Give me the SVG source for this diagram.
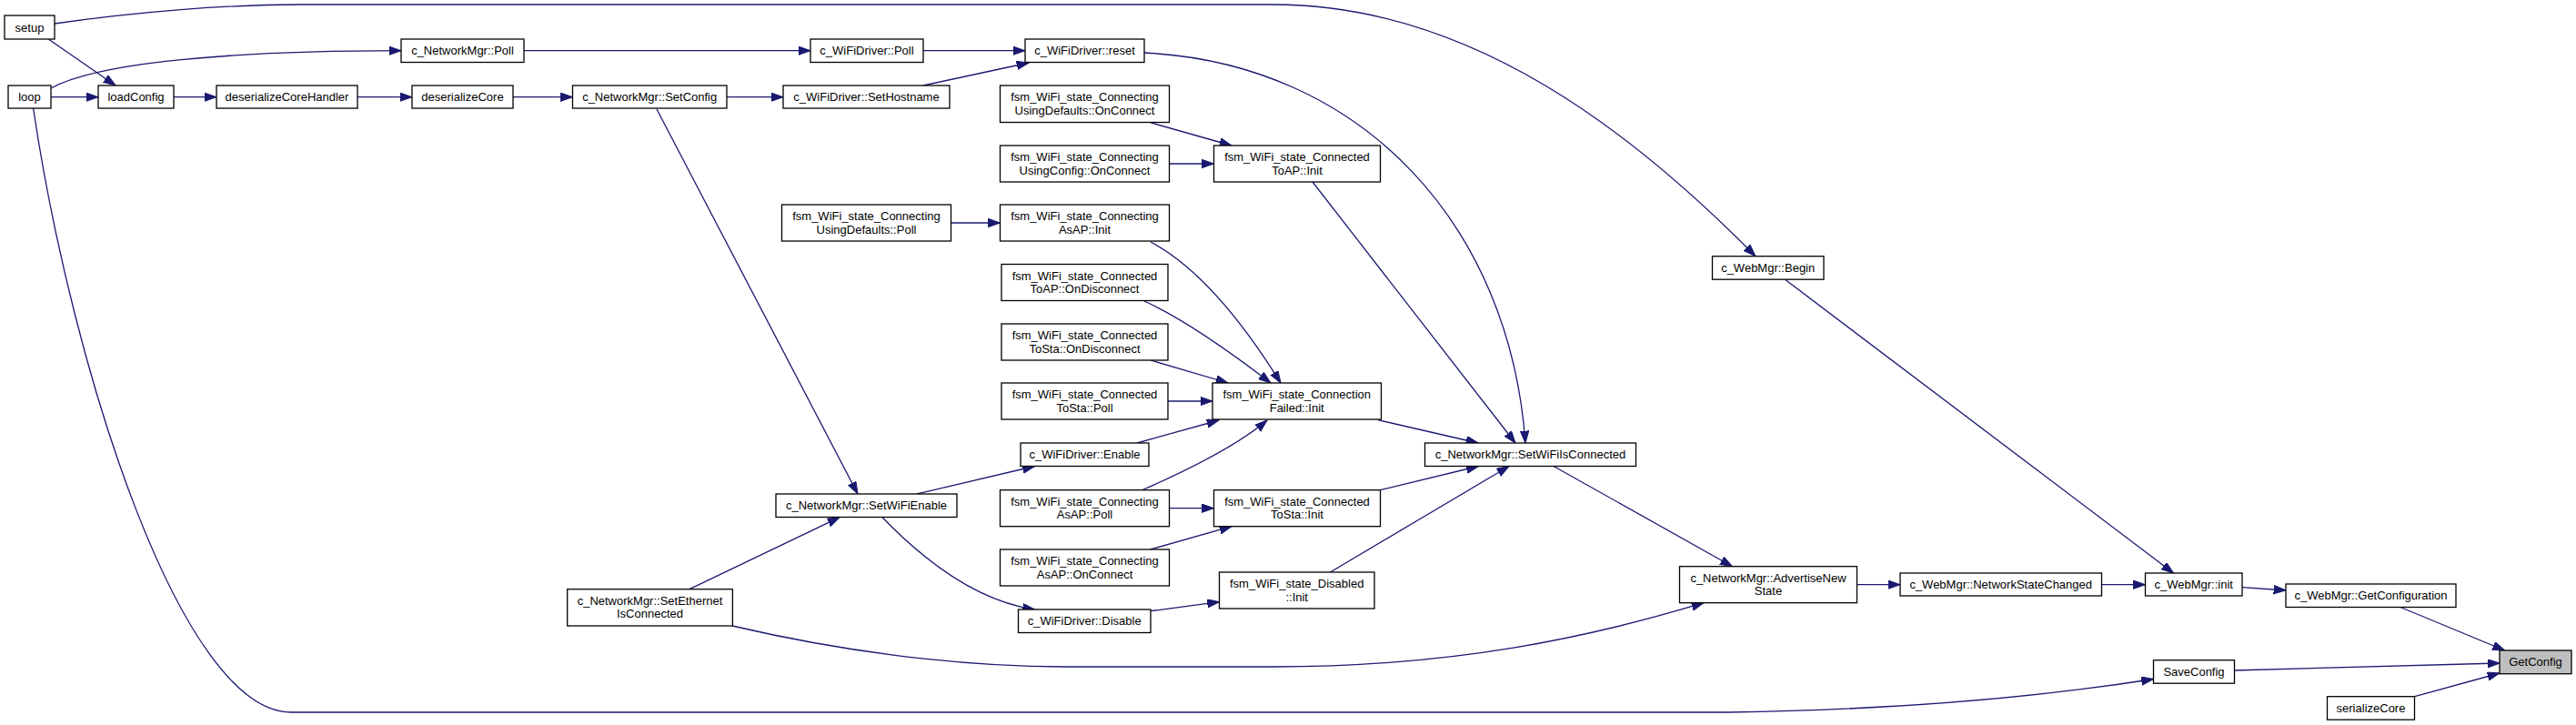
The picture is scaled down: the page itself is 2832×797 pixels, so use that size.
<svg xmlns="http://www.w3.org/2000/svg" width="2832" height="797" viewBox="0 0 2832 797">
<defs>
<style>
.n rect{fill:#fff;stroke:#000;stroke-width:1.3}
.n.g rect{fill:#bfbfbf}
.n text{font-family:"Liberation Sans",Arial,Helvetica,sans-serif;font-size:13px;fill:#000;text-anchor:middle}
.e path{fill:none;stroke:#191970;stroke-width:1.3;marker-end:url(#ah)}
</style>
<marker id="ah" markerWidth="15" markerHeight="11" refX="13.3" refY="4.7" orient="auto" markerUnits="userSpaceOnUse">
<path d="M0,0 L13.3,4.7 L0,9.4 z" fill="#191970" stroke="#191970" stroke-width="1"/>
</marker>
</defs>
<rect x="0" y="0" width="2832" height="797" fill="#fff"/>
<g id="edges" class="e">
<path d="M53.6,43.3 L127,94"/>
<path d="M60,26 C150,13 250,5 330,5 L1400,5 C1620,5 1800,150 1930,281.7"/>
<path d="M56,106.7 L108,106.7"/>
<path d="M56,97 C100,73 220,56 441,55.7"/>
<path d="M36.6,119 C80,410 200,783 320,783 L1900,783 C2100,780 2250,765 2367.5,746.5"/>
<path d="M191,106.7 L238,106.7"/>
<path d="M393,106.7 L453,106.7"/>
<path d="M564,106.7 L629.5,106.7"/>
<path d="M576,55.7 L891,55.7"/>
<path d="M1015,55.7 L1127,55.7"/>
<path d="M799,106.7 L861,106.7"/>
<path d="M1014.7,94 L1131,69"/>
<path d="M722,120 L943,543"/>
<path d="M1258,58 C1500,70 1660,250 1677,487"/>
<path d="M1264.7,134.7 L1354,160"/>
<path d="M1285.3,180 L1334.5,180"/>
<path d="M1443,200 L1666,487"/>
<path d="M1045.5,245 L1099.5,245"/>
<path d="M1265,266 C1320,295 1370,360 1408,421"/>
<path d="M1258,331 C1300,350 1350,385 1397,421"/>
<path d="M1265,396 L1350,421"/>
<path d="M1284,441 L1333,441"/>
<path d="M1250,487 L1340,462"/>
<path d="M1255,539 C1310,515 1360,490 1393,462"/>
<path d="M1515,461.7 L1625,487"/>
<path d="M1008,543 L1137.5,512.5"/>
<path d="M970,568.7 C1010,610 1070,660 1137.5,670"/>
<path d="M758,647.7 L923,568.7"/>
<path d="M805,688 C920,715 1050,733 1170,733 L1400,733 C1600,733 1750,700 1873,662.7"/>
<path d="M1285.3,558.7 L1334.5,558.7"/>
<path d="M1264.7,604 L1354,578.7"/>
<path d="M1517.4,538.7 L1625.4,512.5"/>
<path d="M1265,671.7 L1340.5,661.7"/>
<path d="M1462.5,629 L1659,512.5"/>
<path d="M1708,512.5 L1904.5,622.7"/>
<path d="M2041.5,642.7 L2089,642.7"/>
<path d="M2310.5,642.7 L2358.5,642.7"/>
<path d="M1962.5,307.3 L2389.5,630"/>
<path d="M2465,645.7 L2513,649"/>
<path d="M2639,667.5 L2753.6,715"/>
<path d="M2456.2,737 L2748,729"/>
<path d="M2654.6,765.7 L2748,740"/>
</g>
<g id="n_setup" class="n"><rect x="5" y="17" width="55" height="26"/><text x="32.5" y="34.5">setup</text></g>
<g id="n_loop" class="n"><rect x="9" y="94" width="47" height="25"/><text x="32.5" y="111">loop</text></g>
<g id="n_loadConfig" class="n"><rect x="108" y="94" width="83" height="25"/><text x="149.5" y="111">loadConfig</text></g>
<g id="n_deserializeCoreHandler" class="n"><rect x="238" y="94" width="155" height="25"/><text x="315.5" y="111">deserializeCoreHandler</text></g>
<g id="n_deserializeCore" class="n"><rect x="453" y="94" width="111" height="25"/><text x="508.5" y="111">deserializeCore</text></g>
<g id="n_NM_Poll" class="n"><rect x="441" y="43" width="135" height="25.5"/><text x="508.5" y="60.2">c_NetworkMgr::Poll</text></g>
<g id="n_NM_SetConfig" class="n"><rect x="629.5" y="94" width="169.5" height="25"/><text x="714.2" y="111">c_NetworkMgr::SetConfig</text></g>
<g id="n_WD_SetHostname" class="n"><rect x="861" y="94" width="183" height="25"/><text x="952.5" y="111">c_WiFiDriver::SetHostname</text></g>
<g id="n_WD_Poll" class="n"><rect x="891" y="43" width="124" height="25.5"/><text x="953" y="60.2">c_WiFiDriver::Poll</text></g>
<g id="n_WD_reset" class="n"><rect x="1127" y="43" width="131" height="25.5"/><text x="1192.5" y="60.2">c_WiFiDriver::reset</text></g>
<g id="n_UD_OnConnect" class="n"><rect x="1099.5" y="94" width="186" height="40.5"/><text x="1192.5" y="111.3">fsm_WiFi_state_Connecting</text><text x="1192.5" y="125.7">UsingDefaults::OnConnect</text></g>
<g id="n_UC_OnConnect" class="n"><rect x="1099.5" y="160" width="186" height="40"/><text x="1192.5" y="177.3">fsm_WiFi_state_Connecting</text><text x="1192.5" y="191.7">UsingConfig::OnConnect</text></g>
<g id="n_ToAP_Init" class="n"><rect x="1334.5" y="160" width="183" height="40"/><text x="1426" y="177.3">fsm_WiFi_state_Connected</text><text x="1426" y="191.7">ToAP::Init</text></g>
<g id="n_UD_Poll" class="n"><rect x="859.5" y="225" width="186" height="40"/><text x="952.5" y="242.3">fsm_WiFi_state_Connecting</text><text x="952.5" y="256.7">UsingDefaults::Poll</text></g>
<g id="n_AsAP_Init" class="n"><rect x="1099.5" y="225" width="186" height="40"/><text x="1192.5" y="242.3">fsm_WiFi_state_Connecting</text><text x="1192.5" y="256.7">AsAP::Init</text></g>
<g id="n_ToAP_OnDisconnect" class="n"><rect x="1101" y="290.5" width="183" height="40"/><text x="1192.5" y="307.8">fsm_WiFi_state_Connected</text><text x="1192.5" y="322.2">ToAP::OnDisconnect</text></g>
<g id="n_ToSta_OnDisconnect" class="n"><rect x="1101" y="356" width="183" height="40"/><text x="1192.5" y="373.3">fsm_WiFi_state_Connected</text><text x="1192.5" y="387.7">ToSta::OnDisconnect</text></g>
<g id="n_ToSta_Poll" class="n"><rect x="1101" y="421" width="183" height="40"/><text x="1192.5" y="438.3">fsm_WiFi_state_Connected</text><text x="1192.5" y="452.7">ToSta::Poll</text></g>
<g id="n_ConnFailed_Init" class="n"><rect x="1333" y="421" width="185.5" height="40"/><text x="1425.7" y="438.3">fsm_WiFi_state_Connection</text><text x="1425.7" y="452.7">Failed::Init</text></g>
<g id="n_WD_Enable" class="n"><rect x="1122" y="487" width="141" height="25.5"/><text x="1192.5" y="504.2">c_WiFiDriver::Enable</text></g>
<g id="n_NM_SetWiFiEnable" class="n"><rect x="853" y="543" width="199" height="25.5"/><text x="952.5" y="560.2">c_NetworkMgr::SetWiFiEnable</text></g>
<g id="n_AsAP_Poll" class="n"><rect x="1099.5" y="538.7" width="186" height="40"/><text x="1192.5" y="556">fsm_WiFi_state_Connecting</text><text x="1192.5" y="570.4">AsAP::Poll</text></g>
<g id="n_ToSta_Init" class="n"><rect x="1334.5" y="538.7" width="183" height="40"/><text x="1426" y="556">fsm_WiFi_state_Connected</text><text x="1426" y="570.4">ToSta::Init</text></g>
<g id="n_AsAP_OnConnect" class="n"><rect x="1099.5" y="604" width="186" height="40"/><text x="1192.5" y="621.3">fsm_WiFi_state_Connecting</text><text x="1192.5" y="635.7">AsAP::OnConnect</text></g>
<g id="n_Disabled_Init" class="n"><rect x="1340.5" y="629" width="170.5" height="40"/><text x="1425.7" y="646.3">fsm_WiFi_state_Disabled</text><text x="1425.7" y="660.7">::Init</text></g>
<g id="n_WD_Disable" class="n"><rect x="1119.5" y="670" width="145.5" height="25.5"/><text x="1192.2" y="687.2">c_WiFiDriver::Disable</text></g>
<g id="n_NM_SetEthernet" class="n"><rect x="623.7" y="647.7" width="181.7" height="40.3"/><text x="714.5" y="665">c_NetworkMgr::SetEthernet</text><text x="714.5" y="679.4">IsConnected</text></g>
<g id="n_NM_SetWiFiIsConnected" class="n"><rect x="1566.5" y="487" width="232" height="25.5"/><text x="1682.5" y="504.2">c_NetworkMgr::SetWiFiIsConnected</text></g>
<g id="n_WM_Begin" class="n"><rect x="1882.5" y="281.7" width="122.5" height="25.5"/><text x="1943.7" y="298.9">c_WebMgr::Begin</text></g>
<g id="n_NM_AdvertiseNewState" class="n"><rect x="1846.5" y="622.7" width="195" height="40"/><text x="1944" y="640">c_NetworkMgr::AdvertiseNew</text><text x="1944" y="654.4">State</text></g>
<g id="n_WM_NetworkStateChanged" class="n"><rect x="2089" y="630" width="221.5" height="25"/><text x="2199.7" y="647">c_WebMgr::NetworkStateChanged</text></g>
<g id="n_WM_init" class="n"><rect x="2358.5" y="630" width="106.5" height="25"/><text x="2411.7" y="647">c_WebMgr::init</text></g>
<g id="n_WM_GetConfiguration" class="n"><rect x="2513" y="642" width="187" height="25.5"/><text x="2606.5" y="659.2">c_WebMgr::GetConfiguration</text></g>
<g id="n_GetConfig" class="n g"><rect x="2748" y="715" width="79" height="25.7"/><text x="2787.5" y="732.3">GetConfig</text></g>
<g id="n_SaveConfig" class="n"><rect x="2367.5" y="725.7" width="89" height="25.5"/><text x="2412" y="742.9">SaveConfig</text></g>
<g id="n_serializeCore" class="n"><rect x="2558.5" y="765.7" width="96" height="25.5"/><text x="2606.5" y="782.9">serializeCore</text></g>
</svg>
